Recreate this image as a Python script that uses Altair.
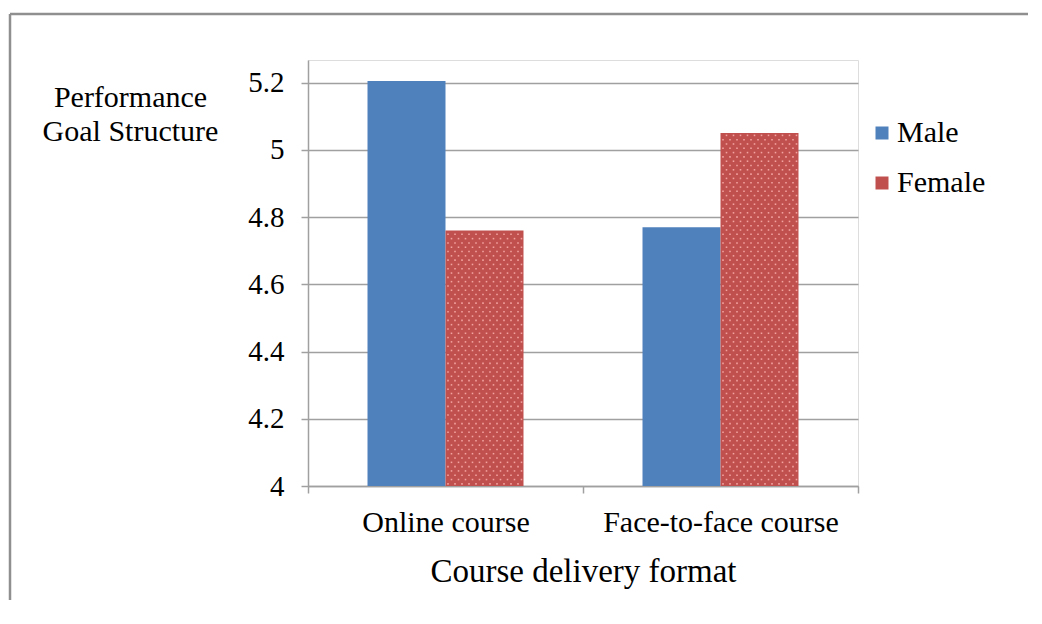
import altair as alt
import pandas as pd

courses = ["Online course", "Face-to-face course"]
genders = ["Male", "Female"]
male_values = [5.205, 4.77]
female_values = [4.76, 5.05]
y_ticks = [4.0, 4.2, 4.4, 4.6, 4.8, 5.0, 5.2]
colors = ["#4F81BD", "#C0504D"]

rows = []
for i, c in enumerate(courses):
    rows.append({"course": c, "gender": "Male", "value": male_values[i]})
    rows.append({"course": c, "gender": "Female", "value": female_values[i]})
df = pd.DataFrame(rows)

FONT = "Liberation Serif"
GRAY = "#a0a0a0"
YTITLE = ["Performance", "Goal Structure"]
XTITLE = "Course delivery format"

x_enc = alt.X("course:N", sort=courses, title=XTITLE,
              scale=alt.Scale(paddingInner=0, paddingOuter=0),
              axis=alt.Axis(labelAngle=0, labelLimit=0,
                            tickBand="extent", tickSize=7, tickColor=GRAY, tickWidth=1.5,
                            domainColor=GRAY, domainWidth=1.5,
                            labelFont=FONT, labelFontSize=30, labelColor="black",
                            labelPadding=14,
                            titleFont=FONT, titleFontSize=33, titleFontWeight="normal",
                            titleColor="black", titleBaseline="top", titleY=69, grid=False))
y_scale = alt.Scale(domain=[4, 5.2675], nice=False, zero=False)
y_axis = alt.Axis(values=y_ticks, format=".1~f",
                  titleAngle=0, titleAlign="center", titleBaseline="alphabetic",
                  titleX=-178, titleY=46, titleLineHeight=34,
                  titleFont=FONT, titleFontSize=30, titleFontWeight="normal",
                  titleColor="black",
                  labelFont=FONT, labelFontSize=29, labelColor="black", labelPadding=17,
                  tickSize=7, tickColor=GRAY, tickWidth=1.5,
                  domainColor=GRAY, domainWidth=1.5,
                  grid=True, gridColor=GRAY, gridWidth=1.5)

bars = alt.Chart(df).mark_bar().encode(
    x=x_enc,
    xOffset=alt.XOffset("gender:N", sort=genders,
                        scale=alt.Scale(paddingInner=0, paddingOuter=0.763)),
    y=alt.Y("value:Q", title=YTITLE, scale=y_scale, axis=y_axis),
    y2=alt.datum(4),
    color=alt.Color("gender:N", sort=genders,
                    scale=alt.Scale(domain=genders, range=colors),
                    legend=alt.Legend(title=None, orient="none", legendX=559, legendY=58,
                                      padding=0,
                                      symbolType="square", symbolSize=169,
                                      symbolStrokeWidth=0, labelFont=FONT,
                                      labelFontSize=30, labelColor="black",
                                      labelOffset=0, rowPadding=20)),
)

# dotted texture of the Female bars
dots = alt.Chart(df).transform_filter(
    alt.datum.gender == "Female"
).transform_calculate(
    r="sequence(0, floor((datum.value - 4) / 0.0128))"
).transform_flatten(["r"]).transform_calculate(
    c="sequence(0, 11)"
).transform_flatten(["c"]).transform_calculate(
    px="140 + datum.c * 7 + (datum.r % 2) * 3.5",
    py="4.0064 + datum.r * 0.0128"
).mark_square(size=2.5, color="#F4A6A4", opacity=0.95).encode(
    x=x_enc,
    xOffset=alt.XOffset("px:Q", scale=alt.Scale(domain=[0, 275])),
    y=alt.Y("py:Q", title=YTITLE, scale=y_scale, axis=y_axis),
)

frame_df = pd.DataFrame({"k": [0]})
frame_top = alt.Chart(frame_df).mark_rule(color="#8f8f8f", strokeWidth=2.5).encode(
    x=alt.value(-298), x2=alt.value(720), y=alt.value(-46))
frame_left = alt.Chart(frame_df).mark_rule(color="#8f8f8f", strokeWidth=2.5).encode(
    x=alt.value(-298), y=alt.value(-46), y2=alt.value(540))

chart = alt.layer(frame_top, frame_left, bars, dots).resolve_scale(
    xOffset="independent"
).properties(
    width=550, height=426,
    padding={"left": 0, "top": 4, "right": 0, "bottom": 0},
).configure_view(stroke=None).configure(background="white", font=FONT)

chart.save("out.html", embed_options={"renderer": "svg", "actions": False})
